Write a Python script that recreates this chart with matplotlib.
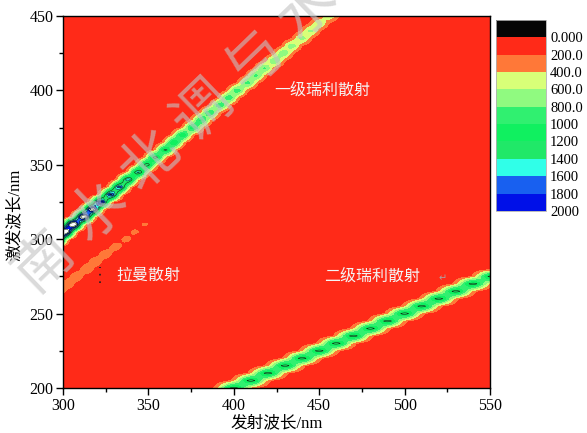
import numpy as np
import matplotlib as mpl
mpl.use("Agg")
import matplotlib.pyplot as plt
from matplotlib.colors import ListedColormap, BoundaryNorm
from matplotlib.cm import ScalarMappable
from matplotlib.ticker import MultipleLocator

# excitation rows (nm) and emission axis (nm)
ex = np.arange(200, 451, 5.0)
em = np.arange(285, 561, 1.0)
background = 60.0

# first order Rayleigh scatter: row, centre on emission axis, peak height
ray1_ex = [300, 305, 310, 315, 320, 325, 330, 335, 340, 345, 350, 355, 360, 365, 370, 375,
           380, 385, 390, 395, 400, 405, 410, 415, 420, 425, 430, 435, 440, 445, 450]
ray1_em = [296, 301, 306, 312, 317, 322, 328, 333, 338, 344, 349, 354, 360, 365, 370, 376,
           381, 386, 392, 397, 402, 408, 413, 418, 424, 429, 434, 440, 445, 450, 456]
ray1_peak = [2600, 2500, 2450, 2300, 2150, 2000, 1850, 1700, 1550, 1450, 1350, 1300, 1250, 1200, 1150, 1100,
             1050, 1000, 980, 950, 920, 880, 850, 820, 800, 760, 720, 680, 640, 600, 560]

# second order Rayleigh scatter
ray2_ex = [200, 205, 210, 215, 220, 225, 230, 235, 240, 245, 250, 255, 260, 265, 270, 275]
ray2_em = [400, 410, 420, 430, 440, 450, 460, 470, 480, 490, 500, 510, 520, 530, 540, 551]
ray2_peak = [1300, 1300, 1300, 1300, 1300, 1300, 1300, 1300, 1300, 1300, 1300, 1300, 1300, 1300, 1300, 1300]

# water Raman band
raman_ex = [265, 270, 275, 280, 285, 290, 295, 300, 305, 310]
raman_em = [298, 303, 308, 314, 319, 325, 331, 337, 342, 348]
raman_peak = [320, 340, 350, 350, 340, 330, 300, 260, 240, 225]

levels = [-200, 0, 200, 400, 600, 800, 1000, 1200, 1400, 1600, 1800, 2000]
colors = ['#050505', '#ff2a18', '#ff7838', '#d8ff78', '#90fa80', '#30f070',
          '#10f060', '#20e868', '#30ffe8', '#1860f0', '#0010e8']
cbar_labels = ['0.000', '200.0', '400.0', '600.0', '800.0', '1000',
               '1200', '1400', '1600', '1800', '2000']

Z = np.full((len(ex), len(em)), background)
for rows, cen, pk, w in [(ray1_ex, ray1_em, ray1_peak, 3.4),
                         (ray2_ex, ray2_em, ray2_peak, 5.6),
                         (raman_ex, raman_em, raman_peak, 3.0)]:
    for e, c, p in zip(rows, cen, pk):
        i = int(np.argmin(np.abs(ex - e)))
        Z[i] += (p - background) * np.exp(-0.5 * ((em - c) / w) ** 2)

serif = ['Liberation Serif', 'DejaVu Serif']
cjk = ['Liberation Serif', 'Noto Sans CJK SC']

fig = plt.figure(figsize=(5.87, 4.33), dpi=100)
ax = fig.add_axes([0.1073, 0.1039, 0.7275, 0.8591])

cmap = ListedColormap(colors)
cmap.set_over('white')
norm = BoundaryNorm(levels, cmap.N)
ax.contourf(em, ex, Z, levels=levels, cmap=cmap, norm=norm, extend='max')
ax.contour(em, ex, Z, levels=levels[7:], colors='#0a2a10', linewidths=0.4)

ax.set_xlim(300, 550)
ax.set_ylim(200, 450)
ax.xaxis.set_major_locator(MultipleLocator(50))
ax.xaxis.set_minor_locator(MultipleLocator(25))
ax.yaxis.set_major_locator(MultipleLocator(50))
ax.yaxis.set_minor_locator(MultipleLocator(25))
ax.tick_params(which='major', direction='out', length=5, width=1, labelsize=11.5, pad=2)
ax.tick_params(which='minor', direction='out', length=3, width=1)
for lab in ax.get_xticklabels() + ax.get_yticklabels():
    lab.set_family(serif)
for s in ax.spines.values():
    s.set_linewidth(1)

ax.set_xlabel('发射波长/nm', family=cjk, fontsize=12, labelpad=1)
ax.set_ylabel('激发波长/nm', family=cjk, fontsize=12)
ax.yaxis.set_label_coords(-0.094, 0.465)

txt = dict(color='#f4f4f4', fontsize=11.5, family=['Noto Sans CJK SC'], fontweight='light',
           ha='center', va='center')
ax.text(451.6, 400.3, '一级瑞利散射', **txt)
ax.text(349.8, 276, '拉曼散射', **txt)
ax.text(481, 275.3, '二级瑞利散射', **txt)
ax.text(522, 274, '↵', color='#b0a0a0', fontsize=7, ha='center', va='center')
ax.plot([321.7, 321.7], [270.6, 281], color='#202020', lw=1.2, linestyle=(0, (1, 3.5)))

# colour scale, Origin style: lowest level on top
cax = fig.add_axes([0.845, 0.513, 0.085, 0.441])
cb = fig.colorbar(ScalarMappable(norm=norm, cmap=cmap), cax=cax,
                  boundaries=levels, ticks=levels[1:])
cax.invert_yaxis()
cax.minorticks_off()
cb.set_ticklabels(cbar_labels)
cax.tick_params(length=0, labelsize=10.5, pad=3)
for lab in cax.get_yticklabels():
    lab.set_family(serif)
cb.outline.set_linewidth(0.6)
cb.outline.set_edgecolor('#b0b0b0')

# journal watermark
wm = '南水北调与水'
for k, ch in enumerate(wm):
    x = (45 + 52.6 * k) / 587
    y = 1 - (262 - 50.5 * k) / 433
    fig.text(x, y, ch, rotation=44, fontsize=42, color='#c4c4c4', alpha=0.62,
             family=['Noto Sans CJK SC'], fontweight='light', ha='center', va='center')

fig.savefig('out.png', dpi=100)
